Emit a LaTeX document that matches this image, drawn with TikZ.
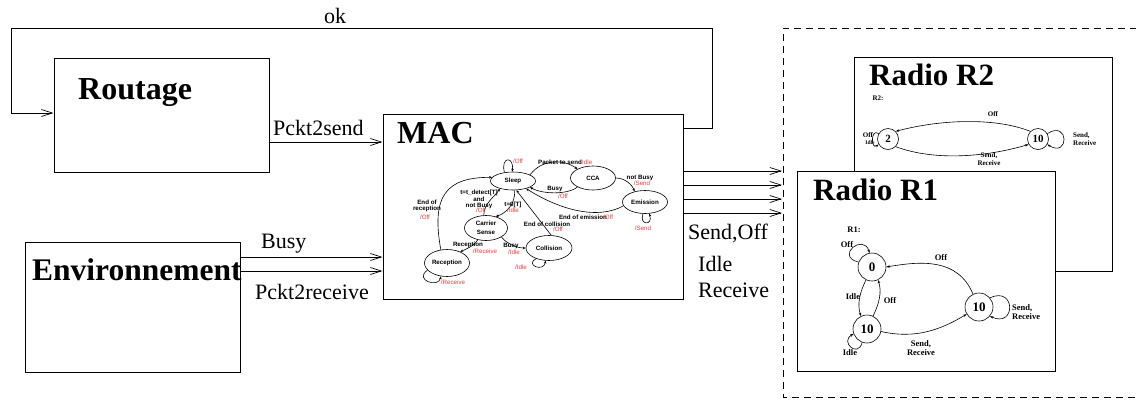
\documentclass[tikz,border=0pt]{standalone}
\usepackage{fontspec}
\setmainfont{Liberation Serif}
\setsansfont{Liberation Sans}
\usetikzlibrary{shapes.geometric,arrows.meta}
\definecolor{macred}{RGB}{240,60,60}
\tikzset{
	blockbox/.style={draw, line width=1pt, inner sep=0pt},
	blocktitle/.style={font=\bfseries\fontsize{32}{36}\selectfont, inner sep=0pt, anchor=base west},
	flowlabel/.style={font=\fontsize{22}{26}\selectfont, inner sep=0pt, anchor=base west},
	flowarrow/.style={line width=0.7pt, -{Straight Barb[length=11pt,width=7pt]}},
	frameline/.style={line width=1pt, dash pattern=on 7pt off 5pt},
	macstate/.style={ellipse, draw, line width=0.6pt, inner sep=0pt, minimum width=45pt, minimum height=24pt, align=center, font=\sffamily\bfseries\fontsize{6.2}{6.5}\selectfont},
	macarrow/.style={line width=0.6pt, -{Stealth[length=3pt,width=2.5pt]}},
	maclabel/.style={inner sep=0pt, align=center, font=\sffamily\bfseries\fontsize{6.2}{6.5}\selectfont},
	macout/.style={inner sep=0pt, text=macred, font=\sffamily\fontsize{6.2}{6.5}\selectfont},
	radiostate/.style={circle, draw, line width=0.6pt, inner sep=0pt, minimum size=28pt, font=\bfseries\fontsize{13}{14}\selectfont},
	radioarrow/.style={line width=0.6pt, -{Stealth[length=3.5pt,width=2.5pt]}},
	radiolabel/.style={inner sep=0pt, font=\bfseries\fontsize{8.5}{9}\selectfont}
}
\begin{document}
\begin{tikzpicture}[x=1pt, y=-1pt]
	\useasboundingbox (0,0) rectangle (1136,400);

	\node[blockbox, minimum width=215, minimum height=114] (routage) at (161.5,115) {};
	\node[blocktitle] (routagetitle) at (78,99) {Routage};
	\node[blockbox, minimum width=215, minimum height=130] (envir) at (132.5,307) {};
	\node[blocktitle, font=\bfseries\fontsize{31.5}{36}\selectfont] (envirtitle) at (32,280) {Environnement};
	\node[blockbox, minimum width=300, minimum height=185] (mac) at (533,206.5) {};
	\node[blocktitle] (mactitle) at (397,143) {MAC};

	\coordinate (okE) at (712,128);
	\coordinate (okNE) at (712,28);
	\coordinate (okNW) at (11,28);
	\coordinate (okW) at (11,113);
	\draw[flowarrow] (mac.east |- okE) -- (okE) -- (okNE) -- (okNW) -- (okW) -- (routage.west |- okW);
	\node[flowlabel] (oklabel) at (324,23) {ok};

	\draw[flowarrow] (routage.east |- 0,142) -- (mac.west |- 0,142);
	\node[flowlabel] (sendlabel) at (273,135) {Pckt2send};
	\draw[flowarrow] (envir.east |- 0,257) -- (mac.west |- 0,257);
	\draw[flowarrow] (envir.east |- 0,271) -- (mac.west |- 0,271);
	\node[flowlabel] (busylabel) at (261,248) {Busy};
	\node[flowlabel] (recvlabel) at (255,299) {Pckt2receive};

	\coordinate (frameW) at (782,28);
	\foreach \y in {171,185,199,213}
		\draw[flowarrow] (mac.east |- 0,\y) -- (frameW |- 0,\y);
	\node[flowlabel] (cmdsend) at (688,239) {Send,Off};
	\node[flowlabel] (cmdidle) at (698,271) {Idle};
	\node[flowlabel] (cmdrecv) at (698,297) {Receive};

	\draw[frameline] (1137,28) -- (783,28) -- (783,397) -- (1137,397);

	\node[macstate, minimum height=18] (sleep) at (513,181) {Sleep};
	\node[macstate] (cca) at (593,178) {CCA};
	\node[macstate, minimum height=23] (emission) at (645,202) {Emission};
	\node[macstate, minimum width=43, minimum height=25] (carrier) at (486,228) {Carrier\\[2.5pt]Sense};
	\node[macstate, minimum width=46, minimum height=25] (collision) at (549,248) {Collision};
	\node[macstate, minimum height=27] (reception) at (447,263) {Reception};

	\draw[macarrow] (sleep.135) .. controls +(-4,-16) and +(2,-16) .. (sleep.95);
	\draw[macarrow] (sleep.20) .. controls +(12,-16) and +(-14,-10) .. (cca.150);
	\draw[macarrow] (cca.210) .. controls +(-10,8) and +(12,7) .. (sleep.-20);
	\draw[macarrow] (cca.east) .. controls +(10,0) and +(-2,-6) .. (emission.135);
	\draw[macarrow] (emission.190) .. controls +(-25,14) and +(35,22) .. (sleep.-30);
	\draw[macarrow] (emission.-100) .. controls +(-4,12) and +(4,12) .. (emission.-70);
	\draw[macarrow] (sleep.-80) .. controls +(1,14) and +(10,-3) .. (carrier.50);
	\draw[macarrow] (carrier.100) .. controls +(0,-12) and +(-5,8) .. (sleep.-150);
	\draw[macarrow] (carrier.-30) .. controls +(5,7) and +(-8,0) .. (collision.west);
	\draw[macarrow] (collision.80) -- (sleep.-70);
	\draw[macarrow] (collision.-140) .. controls +(-12,6) and +(-2,12) .. (collision.-105);
	\draw[macarrow] (carrier.-125) .. controls +(-3,6) and +(6,-3) .. (reception.40);
	\draw[macarrow] (reception.115) .. controls +(-10,-55) and +(-45,0) .. (sleep.170);
	\draw[macarrow] (reception.-160) .. controls +(-14,10) and +(-2,12) .. (reception.-115);

	\node[macout] (outsleep) at (518,161) {/Off};
	\node[maclabel] (lbpacket) at (560,162) {Packet to send};
	\node[macout, anchor=west] (outpacket) at (582,162) {Idle};
	\node[maclabel] (lbbusy) at (555,189) {Busy};
	\node[macout] (outbusy) at (563,196) {/Off};
	\node[maclabel] (lbnotbusy) at (640,178) {not Busy};
	\node[macout] (outnotbusy) at (642,183.5) {/Send};
	\node[maclabel] (lbemission) at (583,217) {End of emission};
	\node[macout, anchor=west] (outemission) at (603,217) {/Off};
	\node[macout] (outemit) at (643,228) {/Send};
	\node[maclabel] (lbdetect) at (479,199.5) {t=t\_detect[T]\\and\\not Busy};
	\node[macout] (outdetect) at (481,210.5) {/Off};
	\node[maclabel] (lbtzero) at (513,205) {t=0[T]};
	\node[macout] (outtzero) at (513,210.5) {/Idle};
	\node[maclabel] (lbendrecv) at (427,206) {End of\\reception};
	\node[macout] (outendrecv) at (425,217) {/Off};
	\node[maclabel] (lbendcoll) at (547,224) {End of collision};
	\node[macout] (outendcoll) at (558,229.5) {/Off};
	\node[maclabel] (lbrecv) at (468,245) {Reception};
	\node[macout] (outrecv) at (485,251) {/Receive};
	\node[maclabel] (lbcsbusy) at (511,246) {Busy};
	\node[macout] (outcsbusy) at (514,252) {/Idle};
	\node[macout] (outcoll) at (521,267) {/Idle};
	\node[macout] (outreception) at (453,282) {/Receive};

	\node[blockbox, minimum width=258, minimum height=214] (radiotwo) at (983,164) {};
	\node[blocktitle, font=\bfseries\fontsize{31}{36}\selectfont] (radiotwotitle) at (869,85) {Radio R2};
	\node[radiolabel, font=\bfseries\fontsize{7}{8}\selectfont] (rtwoname) at (878,98) {R2:};
	\node[radiostate, minimum size=21, font=\bfseries\fontsize{11}{12}\selectfont] (rtwoA) at (888,139) {2};
	\node[radiostate, minimum size=21, font=\bfseries\fontsize{11}{12}\selectfont] (rtwoB) at (1038,139) {10};
	\draw[radioarrow] (rtwoB.135) .. controls +(-35,-14) and +(45,-12) .. (rtwoA.45);
	\draw[radioarrow] (rtwoA.-45) .. controls +(40,15) and +(-40,12) .. (rtwoB.-150);
	\draw[radioarrow] (rtwoA.150) .. controls +(-8,-6) and +(-8,6) .. (rtwoA.-150);
	\draw[radioarrow] (rtwoB.30) .. controls +(22,-14) and +(22,14) .. (rtwoB.-30);
	\node[radiolabel, font=\bfseries\fontsize{7}{8}\selectfont] (rtwooff) at (993,114) {Off};
	\node[radiolabel, font=\bfseries\fontsize{7}{8}\selectfont] (rtwoloopoff) at (868,135) {Off};
	\node[radiolabel, font=\bfseries\fontsize{5.5}{6}\selectfont] (rtwoloopidle) at (870,143) {Idle};
	\node[radiolabel, font=\bfseries\fontsize{7}{8}\selectfont, align=center] (rtwosend) at (989,159) {Send,\\Receive};
	\node[radiolabel, font=\bfseries\fontsize{7}{8}\selectfont, align=left, anchor=west] (rtwoloopsend) at (1073,139) {Send,\\Receive};

	\node[blockbox, fill=white, minimum width=258, minimum height=200] (radioone) at (926,271) {};
	\node[blocktitle, font=\bfseries\fontsize{31}{36}\selectfont] (radioonetitle) at (813,200) {Radio R1};
	\node[radiolabel] (ronename) at (854,230) {R1:};
	\node[radiostate] (roneA) at (872,267) {0};
	\node[radiostate] (roneB) at (867,329) {10};
	\node[radiostate] (roneC) at (979,307) {10};
	\draw[radioarrow] (roneA.160) .. controls +(-24,-6) and +(-6,-20) .. (roneA.100);
	\draw[radioarrow] (roneA.-115) .. controls +(-6,12) and +(-4,-12) .. (roneB.115);
	\draw[radioarrow] (roneB.65) .. controls +(6,-12) and +(4,12) .. (roneA.-65);
	\draw[radioarrow] (roneB.-110) .. controls +(-4,16) and +(-14,8) .. (roneB.200);
	\draw[radioarrow] (roneB.-10) .. controls +(35,8) and +(-25,15) .. (roneC.-150);
	\draw[radioarrow] (roneC.115) .. controls +(-15,-36) and +(35,-6) .. (roneA.east);
	\draw[radioarrow] (roneC.40) .. controls +(26,-12) and +(26,12) .. (roneC.-40);
	\node[radiolabel] (roneloopoff) at (847,245) {Off};
	\node[radiolabel] (roneidle) at (853,297) {Idle};
	\node[radiolabel] (roneoff) at (890,301) {Off};
	\node[radiolabel] (roneloopidle) at (850,353) {Idle};
	\node[radiolabel, align=center] (ronesend) at (921,348) {Send,\\Receive};
	\node[radiolabel] (ronetopoff) at (941,258) {Off};
	\node[radiolabel, align=left, anchor=west] (roneloopsend) at (1012,312) {Send,\\Receive};
\end{tikzpicture}
\end{document}
